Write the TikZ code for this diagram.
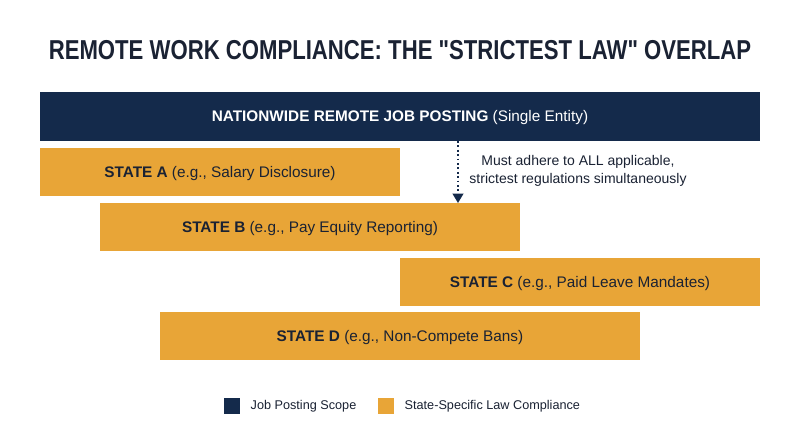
\documentclass[tikz,border=0pt]{standalone}
\usepackage{fontspec}
\setmainfont{Liberation Sans}
\usetikzlibrary{arrows.meta}
\definecolor{navy}{HTML}{142A4B}
\definecolor{gold}{HTML}{E8A537}
\definecolor{ink}{HTML}{1A2233}
\tikzset{
  px/.style={x=0.75pt,y=-0.75pt},
  bar/.style={fill=gold,draw=none},
  bartext/.style={font=\fontsize{11.5pt}{13pt}\selectfont,text=ink,anchor=center},
  note/.style={font=\fontsize{10.5pt}{14pt}\selectfont,text=ink,align=center},
  legtext/.style={font=\fontsize{9.5pt}{11pt}\selectfont,text=ink,anchor=west},
}
\begin{document}
\begin{tikzpicture}[px]
\useasboundingbox (0,0) rectangle (800,447);
\fill[white] (0,0) rectangle (800,447);
\node[font=\bfseries\fontsize{20.5pt}{24pt}\selectfont,text=ink] (title) at (400,50.5) {\scalebox{0.81}[1]{REMOTE WORK COMPLIANCE: THE \textquotedbl STRICTEST LAW\textquotedbl{} OVERLAP}};
% navy bar
\fill[navy] (40,92) rectangle (760,141);
\node[bartext,text=white] (nat) at (400,118) {\textbf{NATIONWIDE REMOTE JOB POSTING} (Single Entity)};
\coordinate (arrtop) at (458,141);
% states
\fill[bar] (40,148) rectangle (400,196);
\node[bartext] (sa) at (220,173.5) {\textbf{STATE A} (e.g., Salary Disclosure)};
\fill[bar] (100,203) rectangle (520,251);
\node[bartext] (sb) at (310,228.5) {\textbf{STATE B} (e.g., Pay Equity Reporting)};
\coordinate (arrbot) at (458,203);
\fill[bar] (400,258) rectangle (760,306);
\node[bartext] (sc) at (580,283.5) {\textbf{STATE C} (e.g., Paid Leave Mandates)};
\fill[bar] (160,312) rectangle (640,360);
\node[bartext] (sd) at (400,337.5) {\textbf{STATE D} (e.g., Non-Compete Bans)};
% arrow
\draw[navy,line width=1.3pt,dotted,-{Triangle[width=8pt,length=7pt]}] (arrtop) -- (arrbot);
\node[note] (note) at (578,171) {Must adhere to ALL applicable,\\strictest regulations simultaneously};
% legend
\fill[navy] (224,398) rectangle (240,414);
\node[legtext] (l1) at (246,406.5) {Job Posting Scope};
\fill[gold] (378,398) rectangle (394,414);
\node[legtext] (l2) at (400,406.5) {State-Specific Law Compliance};
\end{tikzpicture}
\end{document}
